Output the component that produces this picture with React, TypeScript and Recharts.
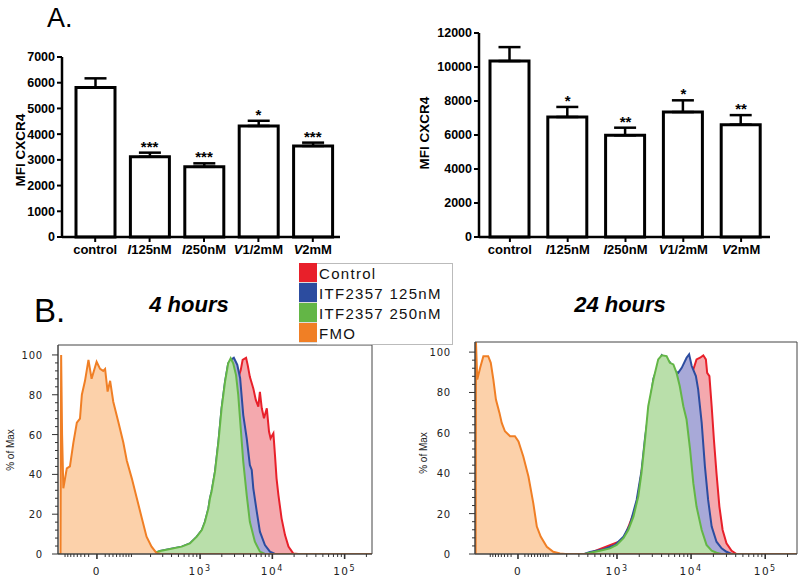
import {
  Area,
  Bar,
  ComposedChart,
  ErrorBar,
  LabelList,
  Line,
  ReferenceArea,
  XAxis,
  YAxis,
} from 'recharts';

const SANS = '"Liberation Sans", Arial, Helvetica, sans-serif';
const WIDE = '"DejaVu Sans", Verdana, sans-serif';

// ---- Panel A: MFI CXCR4 bars ----
const GROUPS = ['control', 'I125', 'I250', 'V1/2', 'V2'];
const DRUG = ['', 'I', 'I', 'V', 'V'];
const DOSE = ['control', '125nM', '250nM', '1/2mM', '2mM'];

const MFI_4H = [5810, 3120, 2730, 4320, 3540];
const SEM_4H = [360, 160, 135, 200, 130];
const SIG_4H = ['', '***', '***', '*', '***'];
const TICKS_4H = [0, 1000, 2000, 3000, 4000, 5000, 6000, 7000];

const MFI_24H = [10350, 7060, 5980, 7350, 6610];
const SEM_24H = [820, 590, 450, 690, 560];
const SIG_24H = ['', '*', '**', '*', '**'];
const TICKS_24H = [0, 2000, 4000, 6000, 8000, 10000, 12000];

// ---- Panel B: histograms, [channel (0-1000 of axis), % of max] ----
const CONTROL_4H: [number, number][] = [
  [0, 0], [300, 0], [325, 1], [420, 4], [458, 10], [489, 27], [511, 50], [532, 75],
  [550, 84], [571, 87], [582, 92.4], [588, 97.5], [599, 98.6], [604, 95], [611, 89],
  [622, 83.2], [630, 77.4], [638, 74], [643, 81.5], [649, 73.2], [656, 68.2], [665, 73.2],
  [672, 61.5], [677, 58.1], [686, 60.6], [691, 49.7], [696, 38], [702, 29.6], [712, 17.9],
  [723, 9.5], [734, 3.7], [749, 0.3], [765, 0],
];
const ITF125_4H: [number, number][] = [
  [0, 0], [300, 0], [325, 1.5], [357, 2.5], [394, 3.7], [420, 5.3], [442, 8.7], [458, 12],
  [468, 16.2], [479, 22.9], [484, 28], [489, 31.3], [500, 41.4], [511, 56.4], [521, 73.2],
  [532, 86.6], [542, 95.8], [550, 97.5], [560, 98.6], [571, 95], [580, 88.3], [590, 69.8],
  [601, 58.1], [611, 44.7], [617, 42.2], [622, 33], [633, 21.3], [643, 11.2], [659, 4.5],
  [675, 1.2], [691, 0],
];
const ITF250_4H: [number, number][] = [
  [0, 0], [300, 0], [325, 1.5], [357, 2.5], [394, 3.7], [420, 5.3], [442, 8.7], [458, 12],
  [468, 16.2], [479, 22.9], [484, 28], [489, 31.3], [500, 41.4], [511, 56.4], [521, 73.2],
  [532, 86.6], [542, 95.8], [550, 98.3], [558, 95.8], [567, 89.9], [574, 79.9], [582, 63.1],
  [590, 46.4], [601, 29.6], [611, 16.2], [627, 6.2], [643, 1.2], [659, 0],
];
const FMO_4H: [number, number][] = [
  [8, 0], [10, 100], [13, 60], [17, 33], [28, 43], [38, 44], [49, 56], [60, 66], [70, 68],
  [76, 80], [86, 87], [97, 97.5], [107, 88], [123, 96.6], [134, 93], [144, 92], [150, 93],
  [158, 81.6], [166, 87], [176, 76.5], [192, 66.5], [208, 56], [219, 47], [235, 38],
  [251, 28], [267, 18], [282, 8.7], [298, 3.7], [314, 0.4], [330, 0], [1000, 0],
];

const CONTROL_24H: [number, number][] = [
  [0, 0], [340, 0], [357, 0.5], [461, 7], [502, 24], [528, 52], [554, 82], [580, 94],
  [621, 88], [642, 89], [673, 91.4], [678, 91.4], [688, 96.4], [699, 97.2], [709, 98.4],
  [717, 96.4], [721, 89.7], [728, 88.1], [735, 73.2], [742, 56.6], [750, 40], [759, 23.5],
  [769, 11.9], [781, 5.3], [797, 1.6], [812, 0],
];
const ITF125_24H: [number, number][] = [
  [0, 0], [340, 0], [357, 1], [398, 2.3], [435, 4.5], [461, 8.6], [481, 14.4], [502, 26.8],
  [517, 41], [528, 57.4], [554, 86.8], [580, 98.4], [605, 95], [621, 90.6], [631, 89.7],
  [642, 92.2], [657, 97.2], [665, 98.9], [673, 93.1], [686, 88.1], [693, 81.5], [704, 64.9],
  [714, 43.4], [724, 26.8], [735, 13.6], [750, 6.1], [766, 2.8], [781, 1.1], [797, 0],
];
const ITF250_24H: [number, number][] = [
  [0, 0], [340, 0], [357, 0.6], [388, 1.6], [419, 2.8], [440, 4.5], [461, 7.8], [476, 11.9],
  [492, 18.5], [507, 28.5], [517, 40], [528, 56.6], [538, 73.2], [554, 86.4], [569, 96.4],
  [580, 98.4], [595, 98], [605, 94.7], [616, 93.9], [626, 89.7], [636, 83.1], [647, 73.2],
  [657, 66.6], [668, 51.7], [678, 35.1], [688, 23.5], [704, 11.9], [719, 4.5], [735, 1.6],
  [750, 0.6], [765, 0],
];
const FMO_24H: [number, number][] = [
  [2, 0], [3, 105], [7, 86.4], [16, 92.2], [26, 98], [41, 98], [49, 94.7], [57, 86.4],
  [65, 76.5], [76, 69.9], [83, 64.9], [93, 60.8], [109, 58.3], [124, 58.3], [135, 55.8],
  [150, 48.3], [166, 38.4], [181, 25.2], [192, 13.6], [204, 8.6], [223, 3.6], [243, 1.1],
  [264, 0.3], [280, 0], [1000, 0],
];

const SERIES = [
  { key: 'control', name: 'Control', line: '#e8202a', fill: '#f4a9ae' },
  { key: 'itf125', name: 'ITF2357 125nM', line: '#2c4c9f', fill: '#a8a9d8' },
  { key: 'itf250', name: 'ITF2357 250nM', line: '#63b646', fill: '#b9dfaa' },
  { key: 'fmo', name: 'FMO', line: '#f07f25', fill: '#fcd1aa' },
];

// biexponential-ish axis: channel of a fluorescence value
const MAJOR_VALUES = [0, 1e3, 1e4, 1e5];
const MAJOR_EXP = ['', '3', '4', '5'];
const MINOR_VALUES = [
  -90, -80, -70, -60, -50, -40, -30, -20, 20, 30, 40, 50, 60, 70, 80, 90,
  100, 200, 300, 400, 500, 600, 700, 800, 900,
  2e3, 3e3, 4e3, 5e3, 6e3, 7e3, 8e3, 9e3,
  2e4, 3e4, 4e4, 5e4, 6e4, 7e4, 8e4, 9e4, 2e5,
];
const PCT_TICKS = Array.from({ length: 26 }, (_, i) => i * 4);

const toChannel = (v: number, zero: number, w: number) => zero + 100 * Math.asinh(v / w);

function barRows(mfi: number[], sem: number[], sig: string[]) {
  return GROUPS.map((g, i) => ({
    group: g,
    mfi: mfi[i],
    err: [0, sem[i]],
    top: mfi[i] + sem[i],
    sig: sig[i],
  }));
}

function mergeSeries(parts: Record<string, [number, number][]>) {
  const rows = new Map<number, Record<string, number>>();
  for (const [key, pts] of Object.entries(parts)) {
    for (const [x, y] of pts) {
      const row = rows.get(x) ?? { ch: x };
      row[key] = y;
      rows.set(x, row);
    }
  }
  return [...rows.values()].sort((a, b) => a.ch - b.ch);
}

function GroupTick(props: any) {
  const { x, y, index } = props;
  return (
    <text x={x} y={y + 10} textAnchor="middle" fontFamily={SANS} fontSize={13} fontWeight="bold" fill="#000">
      {DRUG[index] && <tspan fontStyle="italic">{DRUG[index]}</tspan>}
      <tspan>{DOSE[index]}</tspan>
    </text>
  );
}

function MfiChart({ left, width, top, yWidth, pad, max, ticks, rows }: any) {
  return (
    <div style={{ position: 'absolute', left, top: 0 }}>
      <ComposedChart width={width} height={265} data={rows} margin={{ top, right: 5, left: 0, bottom: 0 }}>
        <XAxis
          dataKey="group"
          tick={GroupTick}
          interval={0}
          tickSize={5}
          tickMargin={2}
          height={28}
          padding={{ left: pad, right: 0 }}
          axisLine={{ stroke: '#000', strokeWidth: 2.5 }}
          tickLine={{ stroke: '#000', strokeWidth: 2 }}
        />
        <YAxis
          domain={[0, max]}
          ticks={ticks}
          interval={0}
          width={yWidth}
          tickSize={5}
          tickMargin={2}
          axisLine={{ stroke: '#000', strokeWidth: 2.5 }}
          tickLine={{ stroke: '#000', strokeWidth: 2 }}
          tick={{ fontFamily: SANS, fontSize: 12.5, fontWeight: 'bold', fill: '#000' }}
        />
        <Bar dataKey="mfi" fill="#fff" stroke="#000" strokeWidth={3} barSize={39} isAnimationActive={false}>
          <ErrorBar dataKey="err" width={11} stroke="#000" strokeWidth={2.5} />
        </Bar>
        <Line dataKey="top" stroke="none" dot={false} activeDot={false} isAnimationActive={false}>
          <LabelList
            dataKey="sig"
            position="top"
            offset={1}
            style={{ fontFamily: SANS, fontSize: 15, fontWeight: 'bold', fill: '#000' }}
          />
        </Line>
      </ComposedChart>
    </div>
  );
}

function FlowChart({ left, top, yWidth, right, zero, w, labelGap, rows }: any) {
  const majors = MAJOR_VALUES.map((v) => toChannel(v, zero, w));
  const minors = MINOR_VALUES.map((v) => toChannel(v, zero, w));

  const xTick = (props: any) => {
    const { x, y, payload } = props;
    const idx = majors.indexOf(payload.value);
    return (
      <g>
        <line x1={x} x2={x} y1={y} y2={y + (idx >= 0 ? 5 : 3)} stroke="#333" strokeWidth={idx >= 0 ? 1.6 : 1} />
        {idx >= 0 && (
          <text x={x} y={y + 21} textAnchor="middle" fontFamily={WIDE} fontSize={10.5} letterSpacing={1.5} fill="#222">
            {idx === 0 ? '0' : '10'}
            {idx > 0 && (
              <tspan dy={-4.5} fontSize={8}>
                {MAJOR_EXP[idx]}
              </tspan>
            )}
          </text>
        )}
      </g>
    );
  };

  const yTick = (props: any) => {
    const { x, y, payload } = props;
    const major = payload.value % 20 === 0;
    return (
      <g>
        <line x1={x - (major ? 6 : 3)} x2={x} y1={y} y2={y} stroke="#333" strokeWidth={1} />
        {major && (
          <text x={x - labelGap} y={y + 4} textAnchor="end" fontFamily={WIDE} fontSize={10} letterSpacing={0.8} fill="#222">
            {payload.value}
          </text>
        )}
      </g>
    );
  };

  return (
    <div style={{ position: 'absolute', left, top: 330 }}>
      <ComposedChart width={380} height={248} data={rows} margin={{ top, right, left: 0, bottom: 0 }}>
        <XAxis
          dataKey="ch"
          type="number"
          domain={[0, 1000]}
          ticks={[...majors, ...minors]}
          interval={0}
          tickSize={0}
          tickMargin={0}
          tickLine={false}
          tick={xTick}
          axisLine={{ stroke: '#444' }}
          height={24}
          allowDataOverflow
        />
        <YAxis
          type="number"
          domain={[0, 105]}
          ticks={PCT_TICKS}
          interval={0}
          tickSize={0}
          tickMargin={0}
          tickLine={false}
          tick={yTick}
          axisLine={{ stroke: '#444' }}
          width={yWidth}
          allowDataOverflow
        />
        {SERIES.map((s) => (
          <Area
            key={s.key}
            dataKey={s.key}
            type="linear"
            stroke={s.line}
            strokeWidth={2}
            fill={s.fill}
            fillOpacity={1}
            connectNulls
            dot={false}
            activeDot={false}
            isAnimationActive={false}
          />
        ))}
        <ReferenceArea x1={0} x2={1000} y1={0} y2={105} fill="none" stroke="#444" strokeWidth={1} ifOverflow="visible" />
      </ComposedChart>
    </div>
  );
}

export default function App() {
  const rows4 = mergeSeries({ control: CONTROL_4H, itf125: ITF125_4H, itf250: ITF250_4H, fmo: FMO_4H });
  const rows24 = mergeSeries({ control: CONTROL_24H, itf125: ITF125_24H, itf250: ITF250_24H, fmo: FMO_24H });

  return (
    <div style={{ position: 'absolute', left: 0, top: 0, width: 800, height: 578, background: '#fff', overflow: 'hidden' }}>
      <MfiChart left={0} width={345} top={57} yWidth={62} pad={6} max={7000} ticks={TICKS_4H} rows={barRows(MFI_4H, SEM_4H, SIG_4H)} />
      <MfiChart left={400} width={375} top={33} yWidth={79} pad={2} max={12000} ticks={TICKS_24H} rows={barRows(MFI_24H, SEM_24H, SIG_24H)} />

      <FlowChart left={0} top={15} yWidth={58} right={8} zero={124} w={75} labelGap={15} rows={rows4} />
      <FlowChart left={420} top={12} yWidth={55} right={3} zero={133.5} w={92.6} labelGap={24} rows={rows24} />

      <svg width={800} height={578} style={{ position: 'absolute', left: 0, top: 0, pointerEvents: 'none' }}>
        <text x={47} y={27} fontFamily={SANS} fontSize={27} fill="#000">A.</text>
        <text x={34} y={322} fontFamily={SANS} fontSize={33} fill="#000">B.</text>
        <text x={189} y={312} textAnchor="middle" fontFamily={SANS} fontSize={22} fontWeight="bold" fontStyle="italic" fill="#000">4 hours</text>
        <text x={620} y={312} textAnchor="middle" fontFamily={SANS} fontSize={22} fontWeight="bold" fontStyle="italic" fill="#000">24 hours</text>
        <text transform="translate(25,150) rotate(-90)" textAnchor="middle" fontFamily={SANS} fontSize={13.5} fontWeight="bold" fill="#000">MFI CXCR4</text>
        <text transform="translate(429,133) rotate(-90)" textAnchor="middle" fontFamily={SANS} fontSize={13.5} fontWeight="bold" fill="#000">MFI CXCR4</text>
        <text transform="translate(14,450) rotate(-90)" textAnchor="middle" fontFamily={SANS} fontSize={10} fill="#222">% of Max</text>
        <text transform="translate(427,453) rotate(-90)" textAnchor="middle" fontFamily={SANS} fontSize={10} fill="#222">% of Max</text>
      </svg>

      <div style={{ position: 'absolute', left: 299, top: 263, display: 'flex' }}>
        <div>
          {SERIES.map((s) => (
            <div key={s.key} style={{ width: 18, height: 20, background: s.line, borderBottom: '1px solid #ddd', boxSizing: 'border-box' }} />
          ))}
        </div>
        <div style={{ border: '1px solid #bbb', borderLeft: 'none', width: 136, boxSizing: 'border-box', background: '#fff' }}>
          {SERIES.map((s) => (
            <div key={s.key} style={{ height: 20, lineHeight: '20px', paddingLeft: 2, fontFamily: SANS, fontSize: 15, letterSpacing: 1.3, color: '#111', whiteSpace: 'nowrap' }}>
              {s.name}
            </div>
          ))}
        </div>
      </div>
    </div>
  );
}
